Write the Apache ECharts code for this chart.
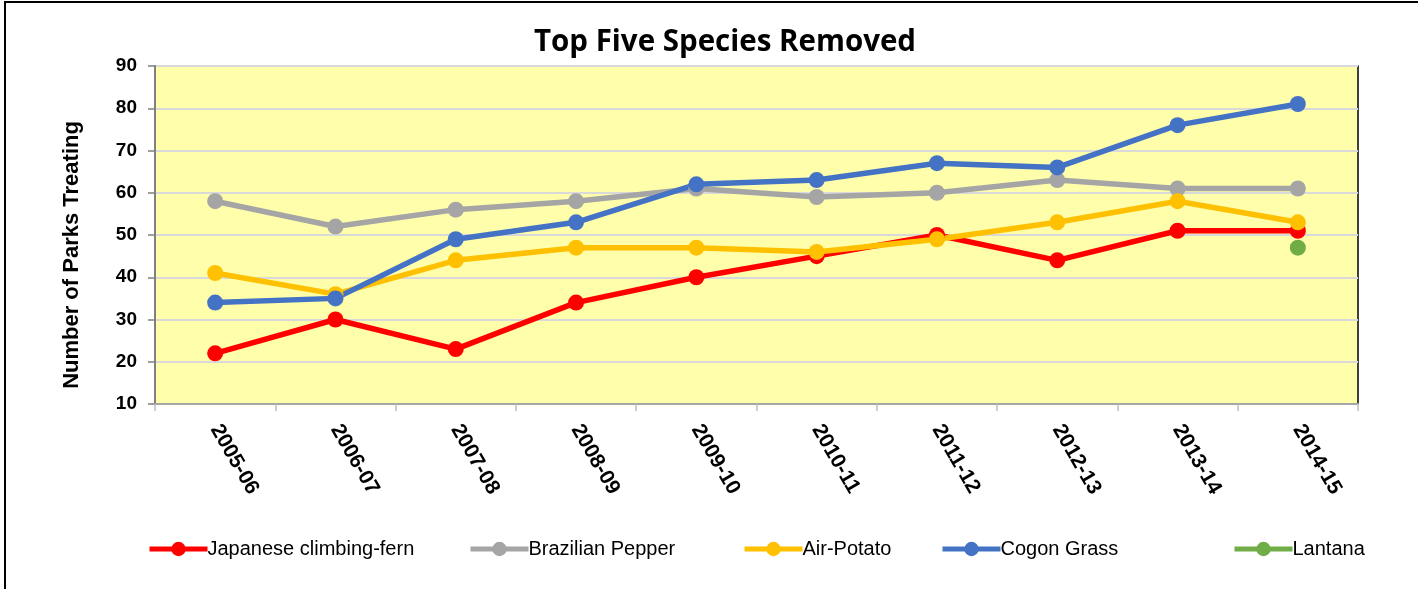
<!DOCTYPE html>
<html>
<head>
<meta charset="utf-8">
<script src="https://cdn.jsdelivr.net/npm/echarts@6/dist/echarts.min.js"></script>
<style>
  html, body { margin: 0; padding: 0; background: #fff; }
  #chart { width: 1418px; height: 589px; }
</style>
</head>
<body>
<div id="chart"></div>
<script>
const seasons = ["2005-06", "2006-07", "2007-08", "2008-09", "2009-10", "2010-11", "2011-12", "2012-13", "2013-14", "2014-15"];
const climbingFern = [22, 30, 23, 34, 40, 45, 50, 44, 51, 51];
const brazilianPepper = [58, 52, 56, 58, 61, 59, 60, 63, 61, 61];
const airPotato = [41, 36, 44, 47, 47, 46, 49, 53, 58, 53];
const cogonGrass = [34, 35, 49, 53, 62, 63, 67, 66, 76, 81];
const lantana = [null, null, null, null, null, null, null, null, null, 47];

const names = ["Japanese climbing-fern", "Brazilian Pepper", "Air-Potato", "Cogon Grass", "Lantana"];
const colors = ["#ff0000", "#a5a5a5", "#ffc000", "#4472c4", "#70ad47"];
const seriesData = [climbingFern, brazilianPepper, airPotato, cogonGrass, lantana];
const legendLeft = [142, 463, 737, 935, 1227];

const chart = echarts.init(document.getElementById("chart"));

const options = {
  animation: false,
  title: {
    text: "Top Five Species Removed",
    left: 529,
    top: 23,
    textStyle: {
      fontFamily: "Open Sans",
      fontWeight: "bold",
      fontSize: 29.5,
      color: "#000",
    },
  },
  graphic: [
    {
      type: "rect",
      shape: { x: 5, y: 2, width: 1440, height: 620 },
      style: { fill: "none", stroke: "#000", lineWidth: 2 },
      silent: true,
    },
    {
      type: "text",
      x: 72,
      y: 255,
      rotation: Math.PI / 2,
      style: {
        text: "Number of Parks Treating",
        fontFamily: "Liberation Sans",
        fontWeight: "bold",
        fontSize: 22,
        fill: "#000",
        align: "center",
        verticalAlign: "middle",
      },
    },
  ],
  legend: names.map((n, i) => ({
    data: [n],
    left: legendLeft[i],
    top: 534,
    itemWidth: 58,
    itemHeight: 18,
    itemGap: 0,
    lineStyle: { width: 5 },
    textStyle: {
      fontFamily: "Liberation Sans",
      fontSize: 20,
      color: "#000",
      padding: [0, 0, 0, -5],
    },
  })),
  grid: {
    left: 155,
    right: 60,
    top: 66,
    bottom: 185,
    show: true,
    backgroundColor: "#ffffab",
    borderColor: "#000",
    borderWidth: 1.5,
  },
  xAxis: {
    type: "category",
    data: seasons,
    boundaryGap: true,
    axisLine: { lineStyle: { color: "#a6a6a6", width: 2 } },
    axisTick: { show: true, length: 7, lineStyle: { color: "#bfbfbf", width: 1.5 } },
    axisLabel: {
      rotate: -60,
      margin: 22,
      fontFamily: "Liberation Sans",
      fontWeight: "bold",
      fontSize: 21,
      color: "#000",
    },
  },
  yAxis: {
    type: "value",
    min: 10,
    max: 90,
    interval: 10,
    axisLine: { show: true, lineStyle: { color: "#808080", width: 2 } },
    axisTick: { show: true, length: 7, lineStyle: { color: "#808080", width: 1.5 } },
    splitLine: { lineStyle: { color: "#d9d9d9", width: 2 } },
    axisLabel: {
      margin: 18,
      fontFamily: "Liberation Sans",
      fontWeight: "bold",
      fontSize: 19,
      color: "#000",
    },
  },
  series: names.map((n, i) => ({
    name: n,
    type: "line",
    data: seriesData[i],
    symbol: "circle",
    symbolSize: 16,
    showAllSymbol: true,
    lineStyle: { color: colors[i], width: 5.5 },
    itemStyle: { color: colors[i] },
  })),
};

chart.setOption(options);
</script>
</body>
</html>
